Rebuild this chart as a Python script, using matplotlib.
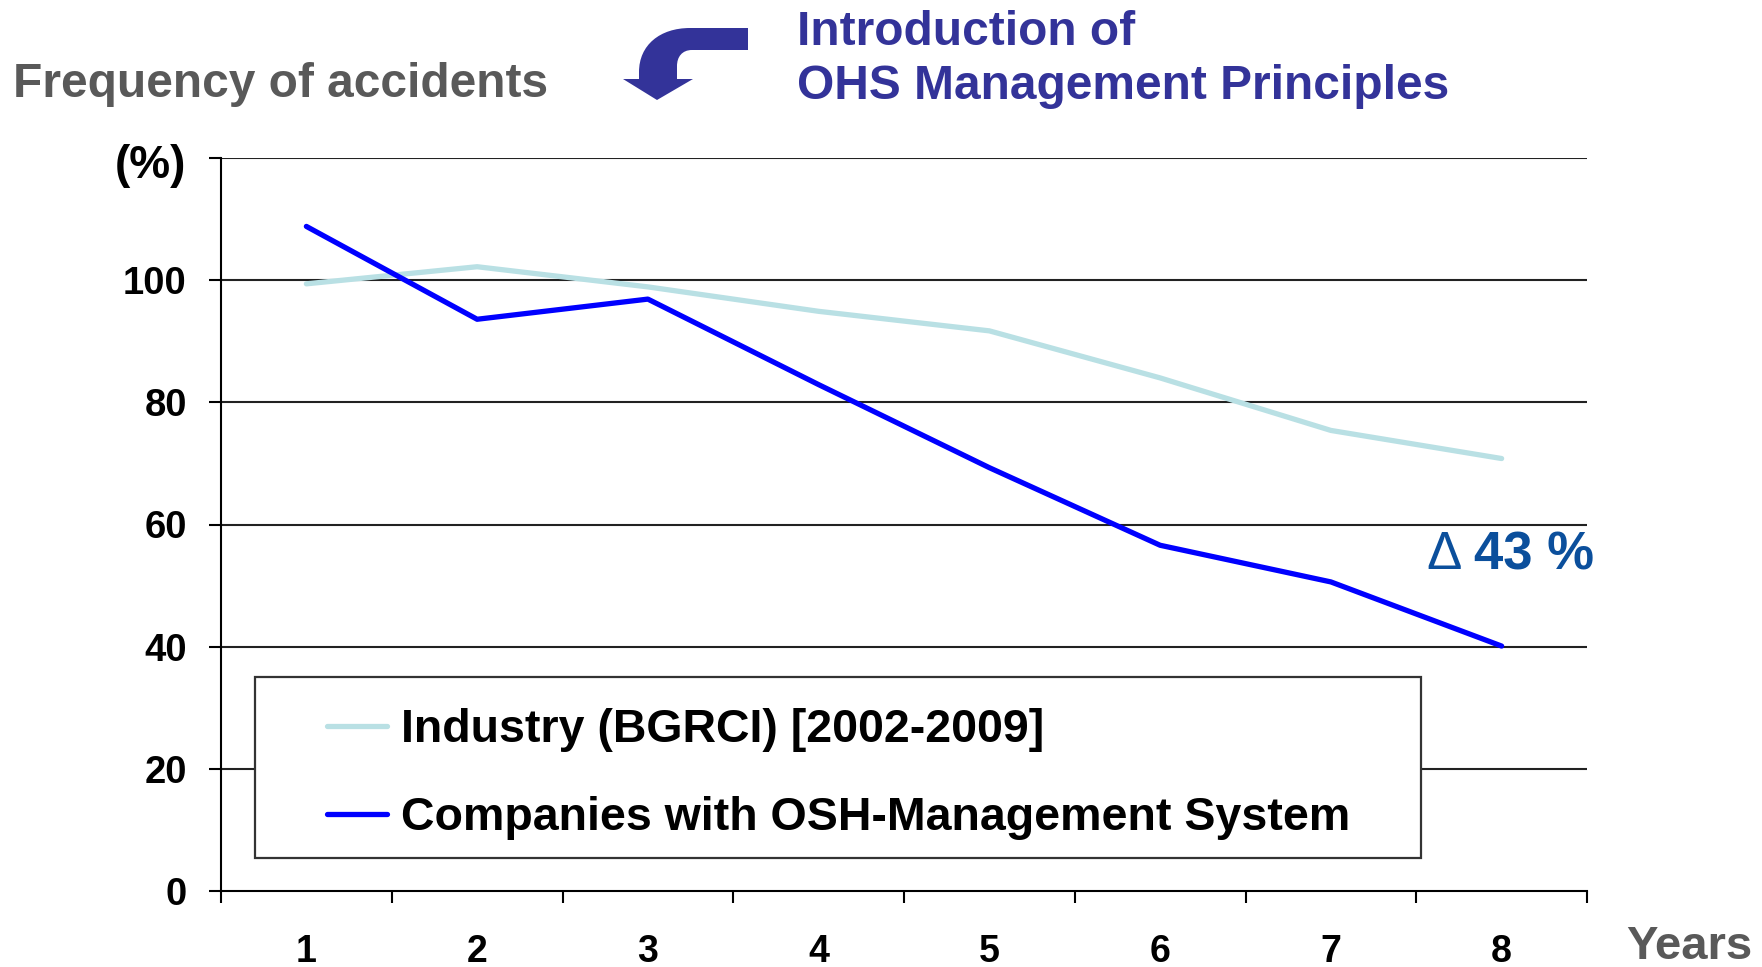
import matplotlib.pyplot as plt
from matplotlib.patches import PathPatch, Rectangle
from matplotlib.path import Path

plt.rcParams['font.family'] = ['Liberation Sans', 'DejaVu Sans']
plt.rcParams['font.weight'] = 'bold'

# data
years = [1, 2, 3, 4, 5, 6, 7, 8]
industry = [99.4, 102.2, 98.9, 94.9, 91.7, 84.0, 75.4, 70.8]
companies = [108.8, 93.6, 96.9, 82.9, 69.3, 56.6, 50.6, 40.1]
y_ticks = [0, 20, 40, 60, 80, 100]
label_industry = 'Industry (BGRCI) [2002-2009]'
label_companies = 'Companies with OSH-Management System'

W, H = 1762, 967
fig = plt.figure(figsize=(W / 100, H / 100), dpi=100)

# main axes, placed in pixels
ax = fig.add_axes([221 / W, 1 - 891 / H, (1587 - 221) / W, (891 - 158) / H])
ax.plot(years, industry, color='#B9E0E4', lw=3.8, label=label_industry,
        solid_capstyle='round', zorder=3)
ax.plot(years, companies, color='#0000FF', lw=3.8, label=label_companies,
        solid_capstyle='round', zorder=4)

ax.set_xlim(0.5, 8.5)
ax.set_ylim(0, 120)
ax.set_xticks(years)
ax.set_xticks([x + 0.5 for x in [0] + years], minor=True)
ax.set_yticks(y_ticks + [120])
ax.set_yticklabels([str(v) for v in y_ticks] + [''])
ax.tick_params(axis='x', which='major', length=0, pad=31, labelsize=27)
ax.tick_params(axis='x', which='minor', length=8.6, width=1.5, direction='out')
ax.tick_params(axis='y', length=8.6, width=1.5, direction='out', pad=16,
               labelsize=27.5)
for lab in ax.get_xticklabels() + ax.get_yticklabels():
    lab.set_fontweight('bold')

for v in y_ticks[1:] + [120]:
    ax.axhline(v, color='#222222', lw=1.5, zorder=1)
for s in ['top', 'right']:
    ax.spines[s].set_visible(False)
for s in ['left', 'bottom']:
    ax.spines[s].set_linewidth(1.5)

# legend box
ax.add_patch(Rectangle(((255 - 221) / 1366, (891 - 858) / 733),
                       (1421 - 255) / 1366, (858 - 677) / 733,
                       transform=ax.transAxes, fill=True, facecolor='white',
                       edgecolor='#333333', lw=1.6, zorder=5))
leg = ax.legend(loc='center left', bbox_to_anchor=((327 - 221) / 1366, (891 - 774) / 733),
                frameon=False, borderpad=0, borderaxespad=0, handlelength=1.3,
                handletextpad=0.28, labelspacing=0.95,
                prop={'size': 33.5, 'weight': 'bold'})
leg.set_zorder(6)

ax.text(7.557, 55.0, '\u0394', fontsize=38, fontweight='normal', color='#0B4F9C',
        ha='left', va='center')
ax.text(7.838, 55.0, '43 %', fontsize=38, fontweight='bold', color='#0B4F9C',
        ha='left', va='center')

# overlay in pixel coordinates for the headings and the arrow
deco = fig.add_axes([0, 0, 1, 1])
deco.set_xlim(0, W)
deco.set_ylim(H, 0)
deco.axis('off')
deco.patch.set_alpha(0)

deco.text(13, 97, 'Frequency of accidents', fontsize=34.5, color='#595959',
          ha='left', va='baseline')
deco.text(797, 45, 'Introduction of', fontsize=34.5, color='#333399',
          ha='left', va='baseline')
deco.text(797, 99, 'OHS Management Principles', fontsize=34.5, color='#333399',
          ha='left', va='baseline')
deco.text(1626, 959, 'Years', fontsize=34, color='#595959', ha='left', va='baseline')
deco.text(186, 166, '(%)', fontsize=33, ha='right', va='center')

verts = [(748, 28), (690, 28), (660, 28), (639, 45), (639, 72), (639, 79),
         (623, 79), (657, 100), (693, 79), (677, 79), (677, 66),
         (677, 57), (682, 50), (692, 50), (748, 50), (748, 28)]
codes = [Path.MOVETO, Path.LINETO, Path.CURVE4, Path.CURVE4, Path.CURVE4,
         Path.LINETO, Path.LINETO, Path.LINETO, Path.LINETO, Path.LINETO,
         Path.LINETO, Path.CURVE4, Path.CURVE4, Path.CURVE4, Path.LINETO,
         Path.CLOSEPOLY]
deco.add_patch(PathPatch(Path(verts, codes), facecolor='#333399', edgecolor='none'))

fig.savefig('out.png', dpi=100)
